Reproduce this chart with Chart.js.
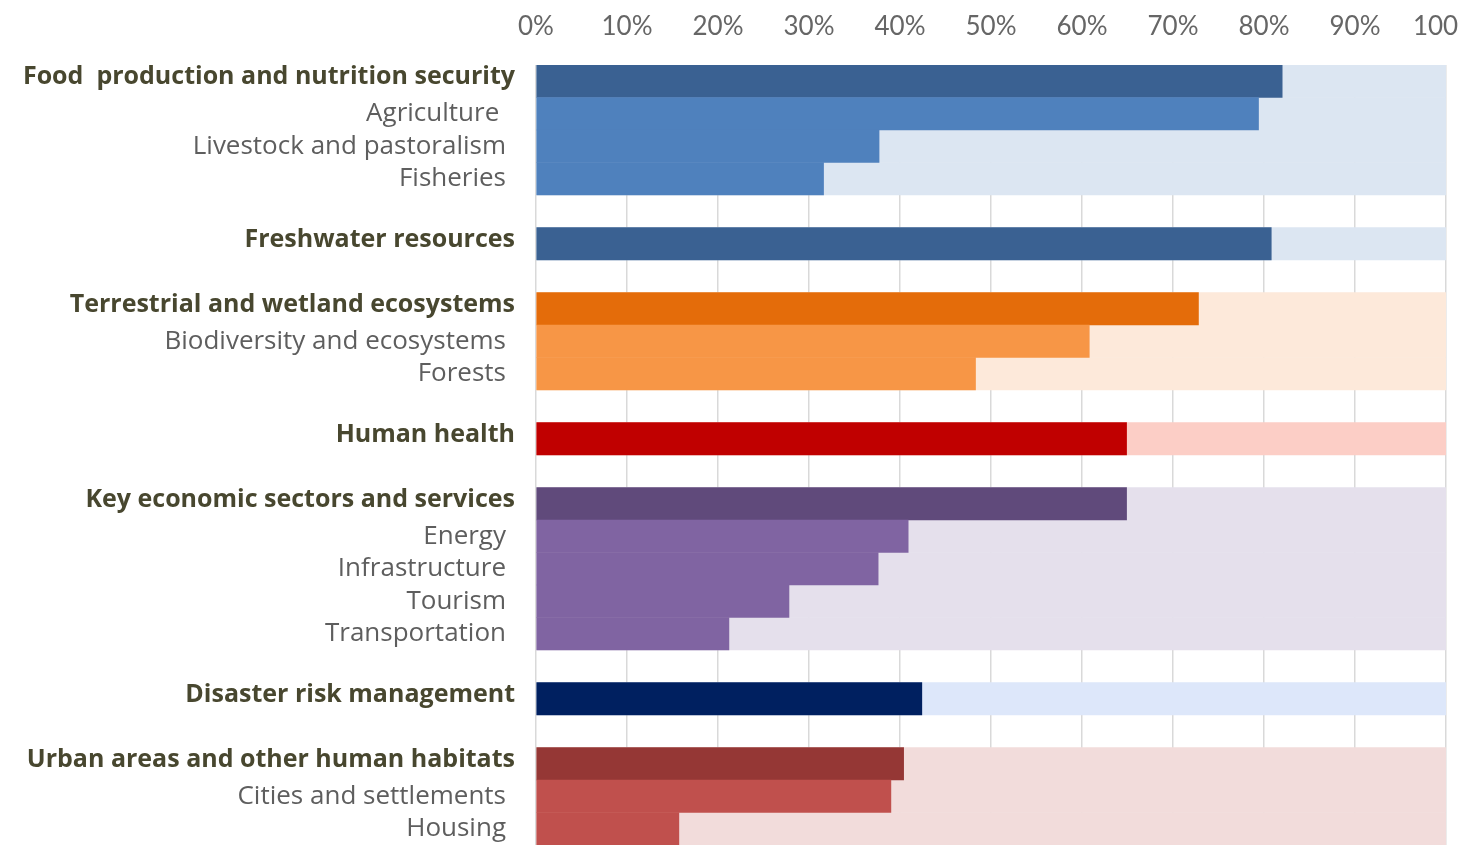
<!DOCTYPE html>
<html>
<head>
<meta charset="utf-8">
<script src="https://cdn.jsdelivr.net/npm/chart.js@4.4.1/dist/chart.umd.min.js"></script>
<style>
  html, body { margin: 0; padding: 0; background: #fff; overflow: hidden; width: 1458px; height: 847px; }
  #wrap { position: absolute; left: 0; top: 0; width: 1502px; height: 847px; }
</style>
</head>
<body>
<div id="wrap"><canvas id="chart"></canvas></div>
<script>
// Sectors and sub-sectors (empty strings are spacer rows between groups)
const categories = [
  'Food  production and nutrition security', 'Agriculture ', 'Livestock and pastoralism', 'Fisheries', '',
  'Freshwater resources', '',
  'Terrestrial and wetland ecosystems', 'Biodiversity and ecosystems', 'Forests', '',
  'Human health', '',
  'Key economic sectors and services', 'Energy', 'Infrastructure', 'Tourism', 'Transportation', '',
  'Disaster risk management', '',
  'Urban areas and other human habitats', 'Cities and settlements', 'Housing'
];

// Share of countries (%) per row
const shares = [
  82.0, 79.4, 37.7, 31.6, null,
  80.8, null,
  72.8, 60.8, 48.3, null,
  64.9, null,
  64.9, 40.9, 37.6, 27.8, 21.2, null,
  42.4, null,
  40.4, 39.0, 15.7
];

// 'h' = sector heading, 's' = sub-sector, '' = spacer
const rowKind = [
  'h', 's', 's', 's', '',
  'h', '',
  'h', 's', 's', '',
  'h', '',
  'h', 's', 's', 's', 's', '',
  'h', '',
  'h', 's', 's'
];

// Colour group of each row
const rowGroup = [
  0, 0, 0, 0, null,
  1, null,
  2, 2, 2, null,
  3, null,
  4, 4, 4, 4, 4, null,
  5, null,
  6, 6, 6
];

const axisMin = 0;
const axisMax = 100;
const axisStep = 10;

const palette = [
  { head: '#3A6192', sub: '#4F81BD', track: '#DCE6F2' },
  { head: '#3A6192', sub: '#4F81BD', track: '#DCE6F2' },
  { head: '#E46C0A', sub: '#F79646', track: '#FDE9DA' },
  { head: '#C00000', sub: '#C00000', track: '#FCCEC6' },
  { head: '#604A7B', sub: '#8064A2', track: '#E5E0EC' },
  { head: '#002060', sub: '#002060', track: '#DDE7FA' },
  { head: '#953735', sub: '#C0504D', track: '#F2DCDB' }
];

const TICK_FONT = 'Lato';
const LABEL_FONT = '"Open Sans"';

const barColor = (i) => {
  const g = rowGroup[i];
  if (g === null) return 'rgba(0,0,0,0)';
  return rowKind[i] === 'h' ? palette[g].head : palette[g].sub;
};
const trackColor = (i) => {
  const g = rowGroup[i];
  return g === null ? 'rgba(0,0,0,0)' : palette[g].track;
};

// Category labels drawn to the left of the plot, headings bold
const rowLabels = {
  id: 'rowLabels',
  afterDraw(chart) {
    const { ctx, chartArea, scales } = chart;
    const y = scales.y;
    ctx.save();
    ctx.textAlign = 'right';
    ctx.textBaseline = 'middle';
    categories.forEach((text, i) => {
      if (!text) return;
      const py = y.getPixelForValue(i);
      if (rowKind[i] === 'h') {
        ctx.font = 'bold 25px ' + LABEL_FONT;
        ctx.fillStyle = '#48472F';
        ctx.fillText(text, chartArea.left - 21, py - 4);
      } else {
        ctx.font = '26px ' + LABEL_FONT;
        ctx.fillStyle = '#5E5E5E';
        ctx.fillText(text, chartArea.left - 30, py);
      }
    });
    ctx.restore();
  }
};

new Chart(document.getElementById('chart'), {
  type: 'bar',
  data: {
    labels: categories,
    datasets: [
      {
        label: 'Share',
        data: shares,
        backgroundColor: categories.map((_, i) => barColor(i)),
        borderWidth: 0,
        grouped: false,
        barPercentage: 1,
        categoryPercentage: 1
      },
      {
        label: 'Total',
        data: shares.map(v => (v === null ? null : axisMax)),
        backgroundColor: categories.map((_, i) => trackColor(i)),
        borderWidth: 0,
        grouped: false,
        barPercentage: 1,
        categoryPercentage: 1
      }
    ]
  },
  options: {
    indexAxis: 'y',
    responsive: true,
    maintainAspectRatio: false,
    animation: false,
    layout: { padding: { left: 536, right: 0, top: 9, bottom: 2 } },
    plugins: {
      legend: { display: false },
      tooltip: { enabled: false }
    },
    scales: {
      x: {
        position: 'top',
        min: axisMin,
        max: axisMax,
        border: { display: false },
        grid: { color: '#D9D9D9', lineWidth: 1.5, drawTicks: false },
        ticks: {
          stepSize: axisStep,
          padding: 23,
          color: '#666666',
          font: { family: TICK_FONT, size: 26 },
          callback: (v) => v + '%'
        },
        afterFit: (scale) => { scale.height = 56; }
      },
      y: {
        display: false,
        offset: true,
        grid: { display: false }
      }
    }
  },
  plugins: [rowLabels]
});
</script>
</body>
</html>
